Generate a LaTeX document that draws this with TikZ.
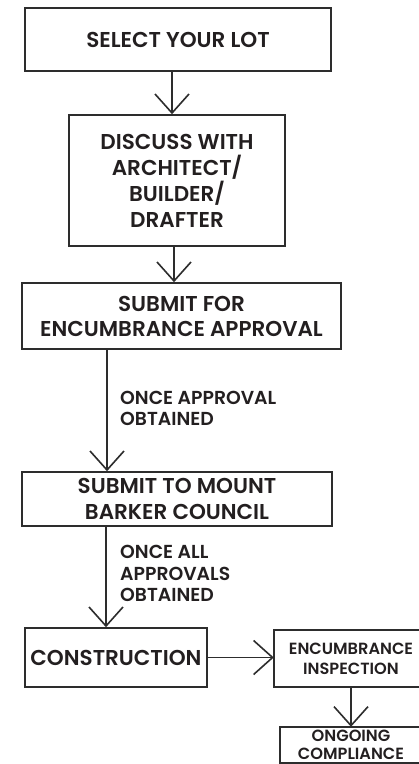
\documentclass[tikz,border=0pt]{standalone}
\usepackage{fontspec}
\setmainfont{Poppins}[UprightFont=* SemiBold]
\usetikzlibrary{arrows.meta,calc}
\definecolor{ink}{RGB}{45,45,45}
\definecolor{txt}{RGB}{35,31,32}
\begin{document}
\begin{tikzpicture}[x=1pt,y=-1pt,
  boxline/.style={draw=ink,line width=1.6pt},
  box/.style={boxline,inner sep=0pt,align=center,text=txt,
    font=\fontsize{21.5}{26}\selectfont},
  openbox/.style={inner sep=0pt,align=center,text=txt,
    font=\fontsize{16.2}{20}\selectfont},
  lbl/.style={inner sep=0pt,align=left,anchor=north west,text=txt,
    font=\fontsize{18.8}{21.5}\selectfont},
  arr/.style={draw=ink,line width=1.6pt,-{Straight Barb[length=19pt,width=34pt]}}]
\fill[white] (0,0) rectangle (419,764);
\useasboundingbox (0,0) rectangle (419,764);

\node[box,minimum width=306pt,minimum height=63pt] (b1) at (178,39.5) {SELECT YOUR LOT};
\node[box,minimum width=216pt,minimum height=131pt] (b2) at (177,180.5)
  {DISCUSS WITH\\ARCHITECT/\\BUILDER/\\DRAFTER};
\node[box,minimum width=319pt,minimum height=66pt,font=\fontsize{21.5}{25}\selectfont] (b3) at (181.5,316)
  {SUBMIT FOR\\ENCUMBRANCE APPROVAL};
\node[box,minimum width=310pt,minimum height=54pt] (b4) at (177,499)
  {SUBMIT TO MOUNT\\BARKER COUNCIL};
\node[box,minimum width=182pt,minimum height=59pt] (b5) at (116,657.5) {CONSTRUCTION};
\node[openbox,minimum width=154pt,minimum height=57pt] (b6) at (351,658.5)
  {ENCUMBRANCE\\INSPECTION};
\node[openbox,minimum width=148pt,minimum height=36pt,font=\fontsize{16.2}{18}\selectfont] (b7) at (351,745)
  {ONGOING\\COMPLIANCE};
% outlines of the two boxes cut by the right edge
\draw[boxline] ([xshift=30pt]b6.north east) -- (b6.north west) -- (b6.south west) -- ([xshift=30pt]b6.south east);
\draw[boxline] ([xshift=30pt]b7.north east) -- ([xshift=3pt]b7.north west) -- ([xshift=3pt]b7.south west) -- ([xshift=30pt]b7.south east);

\node[lbl] (l1) at (120,390.5) {ONCE APPROVAL\\OBTAINED};
\node[lbl] (l2) at (120,545) {ONCE ALL\\APPROVALS\\OBTAINED};

\draw[arr] ([xshift=-6pt]b1.south) -- ([xshift=-6pt]b1.south |- b2.north);
\draw[arr] ([xshift=-3pt]b2.south) -- ([xshift=-3pt]b2.south |- b3.north);
\draw[arr] ([xshift=-74.5pt]b3.south) -- ([xshift=-74.5pt]b3.south |- b4.north);
\draw[arr] ([xshift=-71pt]b4.south) -- ([xshift=-71pt]b4.south |- b5.north);
\draw[arr] (b5.east) -- (b5.east -| b6.west);
\draw[arr] (b6.south) -- (b6.south |- b7.north);
\end{tikzpicture}
\end{document}
